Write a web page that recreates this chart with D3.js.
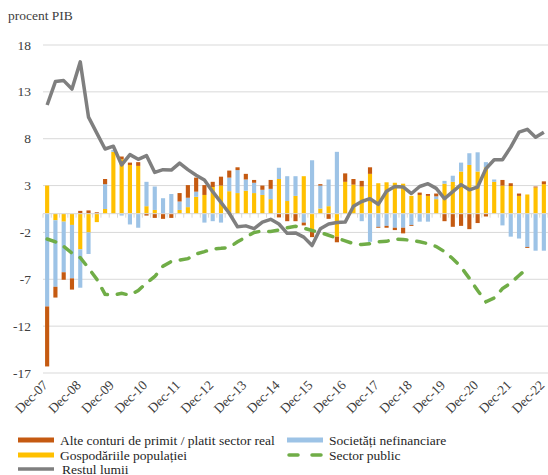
<html>
<head>
<meta charset="utf-8">
<script src="https://d3js.org/d3.v7.min.js"></script>
<style>
  body { margin: 0; background: #fff; }
</style>
</head>
<body>
<script>
// quarters Dec-07 .. Dec-22
var quarters = d3.range(61);
var tickLabels = ["Dec-07","Dec-08","Dec-09","Dec-10","Dec-11","Dec-12","Dec-13","Dec-14",
                  "Dec-15","Dec-16","Dec-17","Dec-18","Dec-19","Dec-20","Dec-21","Dec-22"];
var yTicks = [18, 13, 8, 3, -2, -7, -12, -17];

var alteConturi = [-6.4,-1.15,-0.8,-1.2,0.3,0.35,0.15,0.55,0,0.3,0.25,0.4,-0.2,-0.45,-0.55,-0.45,
  0.9,1.35,1.5,1.05,0.55,0.95,0.75,0.3,0.6,0.3,0.45,0.95,-0.4,-0.8,-0.8,-0.3,-0.6,0.15,-0.55,-0.6,
  0.9,0.6,0.6,0.7,-0.1,-0.2,-0.25,-0.6,-0.1,0.25,0.2,0.3,-0.8,-1.4,-1.3,-1.65,-1.0,-0.3,0,0.6,
  0.3,0.25,-0.1,0.1,0.3];
var societati = [-9.9,-7.1,-5.4,-5.7,-4.1,-2.3,0,2.65,0.2,-0.2,-1.15,-1.5,2.6,2.5,1.65,2.1,
  0.9,1.0,0.55,-0.95,-0.8,-0.95,1.45,2.45,1.2,1.1,0.55,1.1,1.2,2.65,2.1,-0.95,5.7,2.45,2.85,6.6,
  0,0,-0.8,-3.0,-1.4,-1.3,-1.5,-1.5,-1.2,-0.85,-0.85,0.3,0.3,0.65,0.95,1.25,2.05,0.55,0.25,-1.25,
  -2.45,-2.65,-3.55,-3.95,-3.95];
var gospodarii = [3.0,-0.7,-0.85,-1.2,-3.8,-2.0,-0.9,0.5,6.6,5.8,5.2,5.1,0.8,0.4,0,0,
  0.4,0.7,1.8,2.0,2.85,3.0,2.4,2.2,2.45,2.2,2.0,1.55,3.7,1.35,1.9,4.0,-1.9,0.55,0.8,-2.45,
  3.4,3.1,2.9,4.25,3.25,3.35,3.3,3.2,1.9,2.0,1.9,1.55,3.2,3.4,4.5,5.2,4.5,4.95,3.4,3.0,
  2.95,1.9,2.05,2.8,3.15];
var sectorPublic = [-2.7,-3.0,-3.5,-4.2,-4.7,-5.8,-7.0,-8.6,-8.7,-8.5,-8.7,-8.2,-7.4,-6.7,-5.6,-5.1,
  -4.95,-4.8,-4.3,-4.05,-3.75,-3.7,-3.6,-3.0,-2.5,-2.0,-1.85,-1.9,-1.75,-1.5,-1.35,-1.55,-1.8,-2.0,
  -2.3,-2.6,-2.9,-3.2,-3.3,-3.2,-3.0,-2.95,-2.7,-2.75,-2.85,-3.0,-3.2,-3.5,-4.05,-4.8,-5.7,-6.9,
  -8.2,-9.4,-9.0,-8.0,-7.4,-6.6,-5.8,null,null];
var restulLumii = [11.6,14.1,14.2,13.3,16.2,10.3,8.6,6.9,7.2,5.2,6.3,5.8,6.2,4.4,4.7,4.65,
  5.4,4.7,4.1,3.6,2.35,1.2,0.05,-1.4,-1.3,-1.6,-0.9,-0.6,-1.1,-2.1,-2.05,-2.5,-3.4,-1.6,-1.1,-0.95,
  -0.9,0.8,1.3,1.6,1.0,2.4,2.9,2.85,2.15,2.9,3.2,2.7,1.6,2.35,3.1,2.55,2.85,4.8,5.75,5.75,
  7.1,8.7,9.0,8.15,8.7];

var colors = {gosp: "#FFC000", soc: "#9DC3E6", alte: "#C55A11", pub: "#70AD47", rest: "#7F7F7F"};

var width = 548, height = 475;
var svg = d3.select("body").append("svg")
    .attr("width", width)
    .attr("height", height)
    .attr("font-family", "'Liberation Serif', 'Times New Roman', serif")
    .style("font-family", "'Liberation Serif', 'Times New Roman', serif");

var x = d3.scaleBand().domain(quarters).range([43, 548]).paddingInner(0.5).paddingOuter(0.25);
var y = d3.scaleLinear().domain([-17, 18]).range([373, 45]);

// gridlines
svg.append("g").selectAll("line")
    .data(yTicks).enter().append("line")
    .attr("x1", 43).attr("x2", 548)
    .attr("y1", d => y(d)).attr("y2", d => y(d))
    .attr("stroke", "#D9D9D9").attr("stroke-width", 1);

// y labels
svg.append("g").selectAll("text")
    .data(yTicks).enter().append("text")
    .attr("x", 31).attr("y", d => y(d) + 4.5)
    .attr("text-anchor", "end")
    .attr("font-size", 13.5)
    .attr("fill", "#404040")
    .text(d => d);

svg.append("text").attr("x", 8).attr("y", 20).attr("font-size", 13.5)
    .attr("fill", "#404040").text("procent PIB");

// stacked bars, yellow closest to zero, then blue, then orange
var table = quarters.map(i => ({gosp: gospodarii[i], soc: societati[i], alte: alteConturi[i]}));
var series = d3.stack().keys(["gosp", "soc", "alte"]).offset(d3.stackOffsetDiverging)(table);

svg.append("g").selectAll("g")
    .data(series).enter().append("g")
    .attr("fill", d => colors[d.key])
    .selectAll("rect")
    .data(d => d).enter().append("rect")
    .attr("x", (d, i) => x(i))
    .attr("width", x.bandwidth())
    .attr("y", d => y(Math.max(d[0], d[1])))
    .attr("height", d => Math.abs(y(d[0]) - y(d[1])));

// zero axis with category tick marks
var step = x.step();
svg.append("line")
    .attr("x1", 43).attr("x2", 548).attr("y1", y(0)).attr("y2", y(0))
    .attr("stroke", "#D9D9D9");
svg.append("g").selectAll("line")
    .data(d3.range(62)).enter().append("line")
    .attr("x1", d => 43 + d * step).attr("x2", d => 43 + d * step)
    .attr("y1", y(0)).attr("y2", y(0) + 4)
    .attr("stroke", "#D9D9D9");

// lines
var line = d3.line()
    .defined(d => d != null)
    .x((d, i) => x(i) + x.bandwidth() / 2)
    .y(d => y(d));

svg.append("path")
    .attr("d", line(sectorPublic))
    .attr("fill", "none")
    .attr("stroke", colors.pub)
    .attr("stroke-width", 3.5)
    .attr("stroke-linecap", "round")
    .attr("stroke-dasharray", "9,10");

svg.append("path")
    .attr("d", line(restulLumii))
    .attr("fill", "none")
    .attr("stroke", colors.rest)
    .attr("stroke-width", 3.5)
    .attr("stroke-linejoin", "round");

// x labels
svg.append("g").selectAll("text")
    .data(tickLabels).enter().append("text")
    .attr("transform", (d, i) => "translate(" + (x(i * 4) + x.bandwidth() / 2 + 1.5) + "," + 386 + ") rotate(-45)")
    .attr("text-anchor", "end")
    .attr("font-size", 13.5)
    .attr("fill", "#404040")
    .text(d => d);

// legend
var legend = [
  {name: "Alte conturi de primit / platit sector real", type: "bar", c: colors.alte, x: 18, y: 440},
  {name: "Societăți nefinanciare", type: "bar", c: colors.soc, x: 287, y: 440},
  {name: "Gospodăriile populației", type: "bar", c: colors.gosp, x: 18, y: 455},
  {name: "Sector public", type: "dash", c: colors.pub, x: 287, y: 455},
  {name: "Restul lumii", type: "line", c: colors.rest, x: 18, y: 469}
];
var lg = svg.append("g").selectAll("g").data(legend).enter().append("g")
    .attr("transform", d => "translate(" + d.x + "," + d.y + ")");
lg.append("line")
    .attr("x1", d => d.type == "dash" ? 2 : 0).attr("x2", d => d.type == "dash" ? 34 : 36)
    .attr("y1", 0).attr("y2", 0)
    .attr("stroke", d => d.c)
    .attr("stroke-width", d => d.type == "bar" ? 5 : 3.5)
    .attr("stroke-linecap", d => d.type == "dash" ? "round" : "butt")
    .attr("stroke-dasharray", d => d.type == "dash" ? "9,14" : null);
lg.append("text")
    .attr("x", d => d.type == "line" ? 44 : 42).attr("y", 4.5)
    .attr("font-size", 13.5)
    .attr("fill", "#262626")
    .text(d => d.name);
</script>
</body>
</html>
